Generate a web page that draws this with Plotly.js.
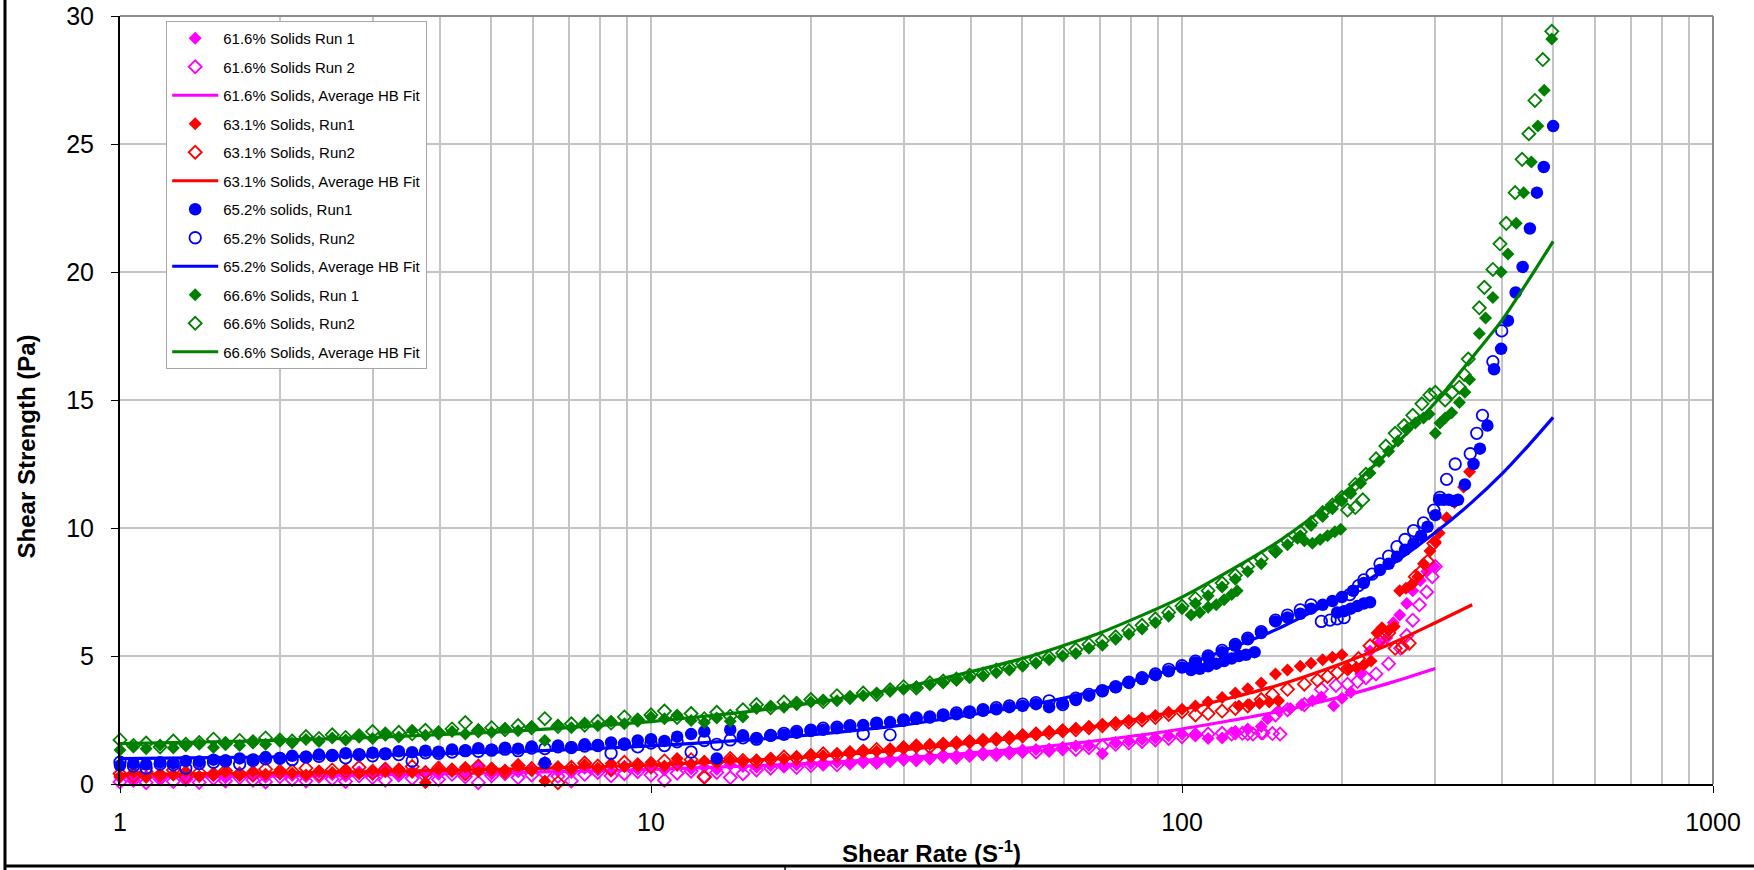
<!DOCTYPE html>
<html>
<head>
<meta charset="utf-8">
<script src="https://cdn.plot.ly/plotly-3.0.1.min.js"></script>
<style>
  html, body { margin: 0; padding: 0; background: #ffffff; }
  #chart { width: 1754px; height: 870px; }
</style>
</head>
<body>
<div id="chart"></div>
<script>
// Shear-rate schedule of the rheometer ramps (1/s)
const rateLow = [
  1.00,1.06,1.12,1.19,1.26,1.33,1.41,1.50,
  1.58,1.68,1.78,1.88,2.00,2.11,2.24,2.37,
  2.51,2.66,2.82,2.99,3.16,3.35,3.55,3.76,
  3.98,4.22,4.47,4.73,5.01,5.31,5.62,5.96,
  6.31,6.68,7.08,7.50,7.94,8.41,8.91,9.44,
  10.0,10.6,11.2,11.9,12.6,13.3,14.1,14.9
];
const rateMid = [
  15.8,16.8,17.8,18.8,20.0,21.1,22.4,23.7,
  25.1,26.6,28.2,29.9,31.6,33.5,35.5,37.6,
  39.8,42.2,44.7,47.3,50.1,53.1,56.2,59.6,
  63.1,66.8,70.8,75.0,79.4,84.1,89.1,94.4,
  100,106,112,119,126,133,141
];

// ---- 61.6 % solids (Pa) ----
const m1Low = [
  0.25,0.18,0.30,0.22,0.35,0.20,0.28,0.32,
  0.24,0.38,0.30,0.26,0.40,0.33,0.28,0.45,
  0.36,0.30,0.48,0.40,0.62,0.35,0.50,0.42,
  0.38,0.55,0.45,0.70,0.40,0.52,0.48,0.58,
  0.85,0.50,0.45,0.62,0.55,0.50,0.68,0.58,
  0.62,0.55,0.72,0.60,0.66,0.58,0.75,0.68
];
const m1Mid = [
  0.65,0.72,0.68,0.75,0.80,0.78,0.85,0.82,
  0.90,0.88,0.95,1.00,0.98,1.05,1.10,1.08,
  1.15,1.20,1.18,1.25,1.30,1.35,1.32,1.42,
  1.48,1.50,1.18,1.62,1.68,1.75,1.80,1.88,
  1.95,1.90,1.78,1.80,2.05,2.15,2.25
];
const m1HiX = [145,152,160,168,176,183,193,200,208,217,226,235,243,250,257,265,272,281,289,298];
const m1HiY = [2.55,2.86,2.95,3.10,3.25,3.40,3.06,3.35,3.58,4.30,5.20,5.50,5.70,6.30,6.60,7.05,7.55,7.95,8.30,8.50];

const m2Low = [
  0.08,0.15,0.05,0.20,0.10,0.18,0.06,0.22,
  0.12,0.25,0.15,0.08,0.28,0.18,0.12,0.30,
  0.20,0.10,0.32,0.25,0.15,0.35,0.22,0.30,
  0.18,0.38,0.28,0.05,0.32,0.40,0.25,0.35,
  0.42,0.30,0.12,0.38,0.45,0.32,0.40,0.48,
  0.35,0.15,0.42,0.50,0.30,0.45,0.25,0.40
];
const m2Mid = [
  0.55,0.62,0.70,0.65,0.72,0.78,0.75,0.82,
  0.88,0.85,0.92,0.98,0.95,1.02,1.08,1.05,
  1.12,1.18,1.15,1.22,1.28,1.25,1.32,1.38,
  1.35,1.42,1.48,1.55,1.60,1.66,1.72,1.78,
  1.85,1.92,1.95,1.98,2.00,1.96,2.00
];
const m2HiX = [124,130,136,142,148,153,150,158,170,183,195,205,214,222,232,245,258,265,272,280,289,296,300];
const m2HiY = [1.95,1.98,1.95,2.00,1.97,1.95,2.70,2.90,3.10,3.70,3.85,3.90,4.00,4.15,4.30,4.70,5.30,5.80,6.40,7.00,7.50,8.10,8.50];

const fitMagX = [1,1.5,2,3,5,7,10,15,20,30,50,70,100,150,200,250,300];
const fitMagY = [0.27,0.29,0.32,0.36,0.43,0.49,0.57,0.70,0.81,1.02,1.38,1.71,2.15,2.81,3.42,3.99,4.51];

// ---- 63.1 % solids (Pa) ----
const r1Low = [
  0.30,0.45,0.25,0.40,0.35,0.50,0.30,0.42,
  0.48,0.32,0.50,0.38,0.55,0.42,0.35,0.52,
  0.45,0.58,0.40,0.55,0.48,0.60,0.45,0.05,
  0.58,0.50,0.65,0.48,0.62,0.55,0.70,0.52,
  0.12,0.68,0.58,0.75,0.62,0.80,0.68,0.72,
  0.85,0.70,1.00,0.78,0.90,0.82,0.95,0.88
];
const r1Mid = [
  0.95,1.02,0.98,1.08,1.15,1.10,1.20,1.25,
  1.30,1.28,1.38,1.45,1.50,1.55,1.52,1.62,
  1.68,1.72,1.78,1.85,1.92,1.98,2.05,2.10,
  2.18,2.25,2.32,2.40,2.48,2.58,2.68,2.80,
  2.92,3.05,3.20,3.38,3.55,3.72,3.95
];
const r1HiX = [128,134,140,146,152,150,158,167,175,184,192,200,206,213,220,227,233,238,245,251,257,264,271,278,285,293,300,305,315,326,339,348];
const r1HiY = [3.05,3.10,3.15,3.20,3.25,4.30,4.45,4.60,4.72,4.85,4.95,5.05,4.50,4.55,4.65,4.80,5.90,6.10,6.00,6.15,7.55,7.65,7.80,8.10,8.60,9.10,9.45,9.80,10.40,11.00,11.60,12.20];

const r2Low = [
  0.40,0.30,0.48,0.35,0.55,0.28,0.45,0.38,
  0.52,0.40,0.35,0.58,0.45,0.50,0.62,0.38,
  0.55,0.48,0.65,0.42,0.58,0.52,0.68,0.45,
  0.62,0.55,0.40,0.70,0.58,0.48,0.72,0.60,
  0.78,0.05,0.65,0.82,0.70,0.58,0.85,0.75,
  0.68,0.90,0.80,0.95,0.26,0.88,1.00,0.92
];
const r2Mid = [
  0.88,0.96,1.05,1.00,1.10,1.18,1.12,1.22,
  1.28,1.35,1.32,1.42,1.48,1.45,1.55,1.60,
  1.65,1.70,1.75,1.80,1.88,1.95,2.00,2.08,
  2.12,2.20,2.28,2.35,2.42,2.50,2.60,2.72,
  2.82,2.70,2.75,2.85,2.95,3.05,3.30
];
const r2HiX = [148,158,170,180,188,196,205,215,226,235,245,252,260,268,275,282,290,298];
const r2HiY = [3.50,3.70,3.90,4.05,4.20,4.35,4.50,4.90,5.40,5.60,5.90,5.30,5.35,5.50,8.10,8.30,8.70,9.40];

const fitRedX = [1,1.5,2,3,5,7,10,15,20,30,50,70,100,150,200,250,300,352];
const fitRedY = [0.38,0.41,0.43,0.48,0.57,0.64,0.75,0.91,1.06,1.34,1.83,2.28,2.90,3.83,4.71,5.52,6.30,7.00];

// ---- 65.2 % solids (Pa) ----
const b1Low = [
  0.72,0.80,0.76,0.85,0.82,0.90,0.88,0.95,
  0.92,1.00,0.96,1.05,1.02,1.10,1.06,1.15,
  1.10,1.20,1.14,1.22,1.18,1.28,1.24,1.30,
  1.26,1.35,1.30,1.40,1.34,1.42,1.38,1.46,
  0.82,1.50,1.44,1.55,1.52,1.62,1.58,1.70,
  1.75,1.68,1.85,1.95,2.05,1.00,2.12,1.90
];
const b1Mid = [
  1.80,1.88,1.92,2.00,2.08,2.12,2.18,2.25,
  2.30,2.36,2.42,2.48,2.55,2.60,2.66,2.72,
  2.78,2.86,2.92,3.00,3.05,3.12,3.00,3.15,
  3.28,3.45,3.62,3.78,3.95,4.10,4.25,4.40,
  4.55,4.75,4.95,5.15,5.40,5.65,5.90
];
const b1HiX = [104,108,112,116,120,124,128,132,137,150,158,167,175,184,192,200,196,202,208,214,220,226,
  210,220,236,245,254,263,273,282,290,300,305,311,318,325,331,341,354,364,376,387,399,411,425,438,452,466,480,500];
const b1HiY = [4.45,4.50,4.60,4.70,4.80,4.90,5.00,5.05,5.15,6.35,6.50,6.65,6.85,7.00,7.15,7.30,6.70,6.75,6.85,6.95,7.05,7.10,
  7.55,7.85,8.36,8.60,8.88,9.15,9.40,9.70,10.05,10.50,11.10,11.10,11.10,11.05,11.10,11.70,12.50,13.10,14.00,16.20,17.00,18.10,19.20,20.20,21.70,23.10,24.10,25.70];

const b2Low = [
  0.85,0.70,0.62,0.78,0.75,0.62,0.80,0.85,
  0.90,0.78,0.92,0.98,1.00,0.95,1.05,1.08,
  1.12,1.02,1.15,1.10,1.18,1.15,0.90,1.22,
  1.20,1.25,1.30,1.28,1.32,1.36,1.30,1.40,
  1.38,1.45,1.42,1.48,1.50,1.20,1.55,1.45,
  1.60,1.50,1.65,1.25,1.70,1.55,1.72,1.80
];
const b2Mid = [
  1.75,1.90,1.98,2.05,2.10,2.18,2.22,2.28,
  1.95,2.38,1.92,2.50,2.58,2.62,2.70,2.78,
  2.82,2.90,2.98,3.05,3.12,3.18,3.25,3.10,
  3.35,3.50,3.65,3.80,3.98,4.15,4.30,4.48,
  4.62,4.80,5.00,5.22,5.45,5.70,5.95
];
const b2HiX = [150,158,167,175,183,190,196,202,207,215,220,228,236,245,254,263,273,285,298,306,315,327,349,359,368,385,400];
const b2HiY = [6.40,6.60,6.80,7.00,6.35,6.40,6.45,6.50,7.40,7.75,7.97,8.20,8.60,8.90,9.27,9.55,9.90,10.20,10.70,11.20,11.90,12.50,12.90,13.70,14.40,16.50,17.70];

const fitBlueX = [1,1.5,2,3,5,7,10,15,20,30,50,70,100,150,200,250,300,350,400,450,500];
const fitBlueY = [0.99,1.03,1.06,1.12,1.24,1.34,1.49,1.71,1.92,2.31,3.03,3.68,4.60,6.02,7.34,8.62,9.82,10.97,12.10,13.24,14.32];

// ---- 66.6 % solids (Pa) ----
const g1Low = [
  1.33,1.45,1.38,1.52,1.41,1.49,1.55,1.43,
  1.58,1.50,1.62,1.55,1.68,1.60,1.74,1.66,
  1.80,1.72,1.85,1.78,1.92,1.84,2.10,1.90,
  1.98,2.05,1.95,2.12,2.02,2.18,2.08,2.25,
  1.70,2.30,2.20,2.38,2.28,2.45,2.35,2.52,
  2.62,2.55,2.70,2.48,2.40,2.58,2.45,2.62
];
const g1Mid = [
  2.95,3.05,3.00,3.12,3.20,3.28,3.25,3.40,
  3.45,3.55,3.62,3.70,3.80,3.88,3.95,4.05,
  4.15,4.22,4.35,4.45,4.60,4.72,4.85,5.00,
  5.10,5.30,5.42,5.65,5.85,6.05,6.30,6.55,
  6.85,7.05,7.35,7.70,8.00,8.30,8.60
];
const g1HiX = [104,108,112,116,120,124,127,165,170,176,182,188,194,199,
  150,158,167,175,184,192,200,208,217,226,235,245,255,265,275,285,292,
  300,306,313,322,333,341,348,363,373,385,399,411,426,440,455,468,481,497];
const g1HiY = [6.60,6.70,6.90,7.00,7.20,7.40,7.55,9.60,9.50,9.40,9.55,9.70,9.85,9.95,
  9.05,9.35,9.70,10.10,10.45,10.75,11.05,11.35,11.75,12.15,12.60,13.00,13.40,13.85,14.10,14.30,14.45,
  13.70,14.10,14.30,14.50,14.90,15.30,15.80,17.60,18.20,19.00,20.00,20.70,21.90,23.10,24.30,25.70,27.10,29.10];

const g2Low = [
  1.72,1.50,1.60,1.45,1.68,1.55,1.62,1.75,
  1.58,1.70,1.65,1.80,1.72,1.68,1.85,1.78,
  1.92,1.82,1.88,2.05,1.95,2.02,1.96,2.10,
  2.00,2.15,2.40,2.08,2.20,2.12,2.28,2.20,
  2.55,2.25,2.35,2.30,2.45,2.38,2.62,2.50,
  2.70,2.85,2.60,2.75,2.55,2.80,2.65,2.90
];
const g2Mid = [
  3.10,2.98,3.20,3.15,3.30,3.22,3.45,3.38,
  3.55,3.50,3.68,3.80,3.75,3.95,4.02,4.10,
  4.25,4.30,4.45,4.55,4.70,4.85,4.95,5.12,
  5.25,5.45,5.60,5.75,6.00,6.20,6.45,6.70,
  6.95,7.25,7.55,7.85,8.15,8.50,8.80
];
const g2HiX = [205,212,219,150,158,167,175,184,192,200,212,222,232,242,252,262,272,283,293,300,
  313,323,333,340,346,363,371,385,397,408,424,437,450,462,478,497];
const g2HiY = [10.70,10.80,11.10,9.10,9.50,9.85,10.20,10.60,10.90,11.20,11.70,12.10,12.70,13.20,13.70,14.00,14.40,14.85,15.20,15.30,
  15.00,15.30,15.50,16.00,16.60,18.60,19.40,20.10,21.10,21.90,23.10,24.40,25.40,26.70,28.30,29.40];

const fitGreenX = [1,1.5,2,3,5,7,10,15,20,30,50,70,100,150,200,250,300,350,400,450,500];
const fitGreenY = [1.58,1.65,1.71,1.82,2.02,2.20,2.44,2.81,3.16,3.78,4.90,5.90,7.30,9.40,11.30,13.16,14.90,16.60,18.10,19.70,21.20];

const seriesNames = [
  '61.6% Solids Run 1', '61.6% Solids Run 2', '61.6% Solids, Average HB Fit',
  '63.1% Solids, Run1', '63.1% Solids, Run2', '63.1% Solids, Average HB Fit',
  '65.2% solids, Run1', '65.2% Solids, Run2', '65.2% Solids, Average HB Fit',
  '66.6% Solids, Run 1', '66.6% Solids, Run2', '66.6% Solids, Average HB Fit'
];

const MAGENTA = '#ff00ff', RED = '#ff0000', BLUE = '#0000ff', GREEN = '#008000';

function runTrace(name, color, symbol, size, low, mid, hiX, hiY) {
  const open = symbol.indexOf('open') >= 0;
  return {
    type: 'scatter', mode: 'markers', name: name, legendgroup: name,
    x: rateLow.concat(rateMid, hiX),
    y: low.concat(mid, hiY),
    cliponaxis: false,
    marker: {
      symbol: symbol, size: size, color: color,
      line: { color: color, width: open ? 1.8 : 0 }
    }
  };
}
function fitTrace(name, color, xs, ys) {
  return {
    type: 'scatter', mode: 'lines', name: name, legendgroup: name,
    x: xs, y: ys, cliponaxis: false,
    line: { color: color, width: 3.2, shape: 'spline', smoothing: 0.6 }
  };
}

const traces = [
  runTrace(seriesNames[0], MAGENTA, 'diamond', 10, m1Low, m1Mid, m1HiX, m1HiY),
  runTrace(seriesNames[1], MAGENTA, 'diamond-open', 10, m2Low, m2Mid, m2HiX, m2HiY),
  fitTrace(seriesNames[2], MAGENTA, fitMagX, fitMagY),
  runTrace(seriesNames[3], RED, 'diamond', 10, r1Low, r1Mid, r1HiX, r1HiY),
  runTrace(seriesNames[4], RED, 'diamond-open', 10, r2Low, r2Mid, r2HiX, r2HiY),
  fitTrace(seriesNames[5], RED, fitRedX, fitRedY),
  runTrace(seriesNames[6], BLUE, 'circle', 12.5, b1Low, b1Mid, b1HiX, b1HiY),
  runTrace(seriesNames[7], BLUE, 'circle-open', 11.5, b2Low, b2Mid, b2HiX, b2HiY),
  fitTrace(seriesNames[8], BLUE, fitBlueX, fitBlueY),
  runTrace(seriesNames[9], GREEN, 'diamond', 10, g1Low, g1Mid, g1HiX, g1HiY),
  runTrace(seriesNames[10], GREEN, 'diamond-open', 10, g2Low, g2Mid, g2HiX, g2HiY),
  fitTrace(seriesNames[11], GREEN, fitGreenX, fitGreenY)
];

const GRID = '#c4c4c4';
const FONT = 'Liberation Sans, Arial, Helvetica, sans-serif';

const layout = {
  width: 1754, height: 870,
  margin: { l: 120, r: 41, t: 16, b: 86, pad: 0 },
  paper_bgcolor: '#ffffff', plot_bgcolor: '#ffffff',
  font: { family: FONT, color: '#000000' },
  hovermode: false,
  showlegend: true,
  legend: {
    x: 0.029, y: 0.9935, xanchor: 'left', yanchor: 'top',
    bgcolor: '#ffffff', bordercolor: '#a6a6a6', borderwidth: 1,
    font: { family: FONT, size: 15, color: '#000000' },
    traceorder: 'grouped', tracegroupgap: 6, itemwidth: 46
  },
  xaxis: {
    type: 'log', range: [0, 3],
    tickmode: 'array', tickvals: [1, 10, 100, 1000], ticktext: ['1', '10', '100', '1000'],
    ticks: 'outside', ticklen: 7, tickwidth: 1, tickcolor: '#000000',
    ticklabelstandoff: 8,
    tickfont: { family: FONT, size: 25, color: '#000000' },
    showline: true, linecolor: '#000000', linewidth: 2,
    showgrid: true, gridcolor: GRID, gridwidth: 2, zeroline: false,
    minor: {
      tickmode: 'array',
      tickvals: [2,3,4,5,6,7,8,9,20,30,40,50,60,70,80,90,200,300,400,500,600,700,800,900],
      ticks: '', showgrid: true, gridcolor: GRID, gridwidth: 2
    }
  },
  yaxis: {
    range: [0, 30], tick0: 0, dtick: 5,
    ticks: 'outside', ticklen: 7, tickwidth: 1, tickcolor: '#000000',
    ticklabelstandoff: 12,
    tickfont: { family: FONT, size: 25, color: '#000000' },
    showline: true, linecolor: '#000000', linewidth: 2,
    showgrid: true, gridcolor: GRID, gridwidth: 2, zeroline: false
  },
  shapes: [
    // grey frame on top and right of the plot area
    { type: 'line', xref: 'paper', yref: 'paper', x0: 0, x1: 1, y0: 1, y1: 1, line: { color: '#8c8c8c', width: 2 }, layer: 'above' },
    { type: 'line', xref: 'paper', yref: 'paper', x0: 1, x1: 1, y0: 0, y1: 1, line: { color: '#8c8c8c', width: 2 }, layer: 'above' },
    // outer page frame
    { type: 'line', xref: 'paper', yref: 'paper', x0: -0.0722, x1: -0.0722, y0: -0.115, y1: 1.03, line: { color: '#000000', width: 3 } },
    { type: 'line', xref: 'paper', yref: 'paper', x0: -0.0722, x1: 1.03, y0: -0.1068, y1: -0.1068, line: { color: '#000000', width: 3 } },
    { type: 'line', xref: 'paper', yref: 'paper', x0: 0.4175, x1: 0.4175, y0: -0.1068, y1: -0.115, line: { color: '#000000', width: 1.5 } }
  ],
  annotations: [
    {
      xref: 'paper', yref: 'paper', x: 0.5097, y: -0.0885, xanchor: 'center', yanchor: 'middle',
      showarrow: false, text: '<b>Shear Rate (S<sup>-1</sup>)</b>',
      font: { family: FONT, size: 24, color: '#000000' }
    },
    {
      xref: 'paper', yref: 'paper', x: -0.059, y: 0.4395, xanchor: 'center', yanchor: 'middle',
      showarrow: false, textangle: -90, text: '<b>Shear Strength (Pa)</b>',
      font: { family: FONT, size: 24, color: '#000000' }
    }
  ]
};

Plotly.newPlot('chart', traces, layout, { staticPlot: true, displayModeBar: false });
</script>
</body>
</html>
